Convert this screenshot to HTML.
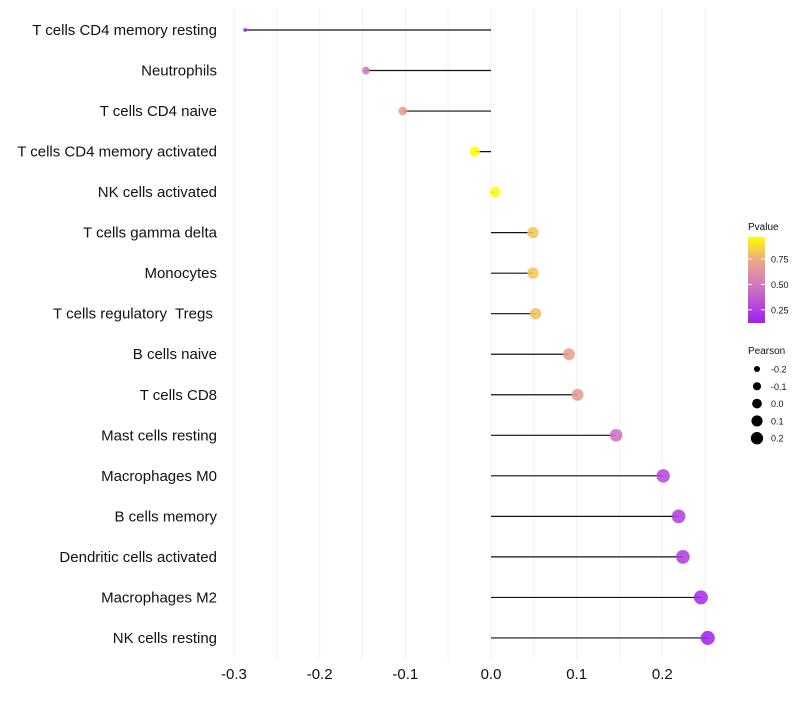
<!DOCTYPE html>
<html><head><meta charset="utf-8"><style>
body{margin:0;background:#fff;font-family:"Liberation Sans",sans-serif}
text{white-space:pre}
</style></head><body>
<svg id="c" width="800" height="700" xmlns="http://www.w3.org/2000/svg"></svg>
<script>
const categories=["T cells CD4 memory resting","Neutrophils","T cells CD4 naive","T cells CD4 memory activated","NK cells activated","T cells gamma delta","Monocytes","T cells regulatory  Tregs ","B cells naive","T cells CD8","Mast cells resting","Macrophages M0","B cells memory","Dendritic cells activated","Macrophages M2","NK cells resting"];
const pearson=[-0.287,-0.146,-0.103,-0.019,0.005,0.049,0.049,0.052,0.091,0.101,0.146,0.201,0.219,0.224,0.245,0.253];
const pvalues=[0.13,0.5,0.68,0.96,0.97,0.82,0.82,0.8,0.7,0.68,0.47,0.3,0.27,0.26,0.18,0.15];
const xTicks=[-0.3,-0.2,-0.1,0.0,0.1,0.2];
const xGrid=[-0.3,-0.25,-0.2,-0.15,-0.1,-0.05,0,0.05,0.1,0.15,0.2,0.25];
const pTicks=[0.25,0.5,0.75];
const sizeTicks=[-0.2,-0.1,0.0,0.1,0.2];
const NS="http://www.w3.org/2000/svg",svg=document.getElementById('c');
function el(t,a,p){const e=document.createElementNS(NS,t);for(const k in a)e.setAttribute(k,a[k]);(p||svg).appendChild(e);return e;}
const x=v=>491+(v)*856.7;
const y=i=>30+i*40.53;
const r=v=>Math.sqrt(Math.max(3,28+85*v));
const stops=[[0.13,[160,32,240]],[0.5,[210,120,190]],[0.75,[238,170,130]],[0.966,[255,255,0]]];
function col(p){if(p<=stops[0][0])return 'rgb('+stops[0][1]+')';for(let i=1;i<stops.length;i++){if(p<=stops[i][0]){const t=(p-stops[i-1][0])/(stops[i][0]-stops[i-1][0]);const a=stops[i-1][1],b=stops[i][1];return 'rgb('+a.map((v,k)=>Math.round(v+(b[k]-v)*t)).join(',')+')';}}return 'rgb(255,255,0)';}
xGrid.forEach(v=>{const g=el('line',{x1:x(v),x2:x(v),y1:8,y2:660,stroke:'#f2f2f2','stroke-width':1});

});
xTicks.forEach(v=>{const t=el('text',{x:x(v),y:679,'text-anchor':'middle','font-size':15,fill:'#111'});t.textContent=v.toFixed(1);

});
categories.forEach((c,i)=>{
const t=el('text',{x:217,y:y(i)+5,'text-anchor':'end','font-size':15,fill:'#111'});t.textContent=c;


const ln=el('line',{x1:x(0),x2:x(pearson[i]),y1:y(i),y2:y(i),stroke:'#111','stroke-width':1.2});


const d=el('circle',{cx:x(pearson[i]),cy:y(i),r:r(pearson[i]),fill:col(pvalues[i]),'fill-opacity':0.88});


});
let t=el('text',{x:748,y:230,'font-size':10,fill:'#111'});t.textContent='Pvalue';


const defs=el('defs',{});const gr=el('linearGradient',{id:'g',x1:0,y1:1,x2:0,y2:0},defs);
stops.forEach(s=>el('stop',{offset:((s[0]-0.13)/(0.966-0.13)),'stop-color':'rgb('+s[1]+')'},gr));
const bar=el('rect',{x:748,y:237,width:17,height:86,fill:'url(#g)'});


const py=p=>322-(p-0.13)/(0.966-0.13)*85;
pTicks.forEach(p=>{el('line',{x1:748,x2:752,y1:py(p),y2:py(p),stroke:'#fff'});el('line',{x1:761,x2:765,y1:py(p),y2:py(p),stroke:'#fff'});
const tt=el('text',{x:771,y:py(p)+3.5,'font-size':9,fill:'#111'});tt.textContent=p.toFixed(2);

});
t=el('text',{x:748,y:354,'font-size':10,fill:'#111'});t.textContent='Pearson';


sizeTicks.forEach((s,i)=>{const cy=369+i*17.3;
const c=el('circle',{cx:757,cy:cy,r:r(s)*0.92,fill:'#000'});


const tt=el('text',{x:771,y:cy+3.5,'font-size':9,fill:'#111'});tt.textContent=s.toFixed(1);

});
</script>
</body></html>
